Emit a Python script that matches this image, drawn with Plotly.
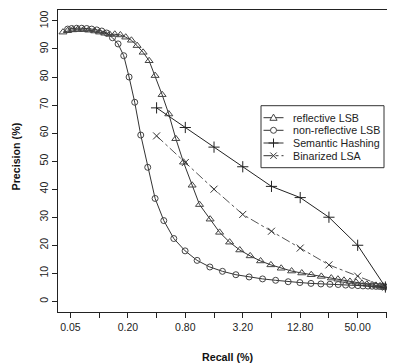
import plotly.graph_objects as go

# Reflective LSB (triangles)
refl_recall = [0.0418, 0.0468, 0.0528, 0.0596, 0.0689, 0.0778, 0.0899, 0.101, 0.1145, 0.129,
               0.146, 0.167, 0.190, 0.218, 0.250, 0.289, 0.334, 0.386, 0.457, 0.537,
               0.636, 0.766, 0.943, 1.127, 1.456, 1.83, 2.33, 2.98, 3.83, 4.92,
               6.31, 8.09, 10.4, 13.3, 16.7, 21.3, 27.1, 31.8, 36.8, 42.5,
               49.2, 56.8, 64.0, 72.4, 79.7, 87.9, 94.3, 100.0]
refl_prec = [96.0, 96.5, 96.8, 96.9, 96.9, 96.7, 96.4, 96.0, 95.6, 95.2,
             95.25, 95.0, 94.2, 93.1, 91.2, 88.8, 85.8, 80.5, 73.7, 66.8,
             58.0, 49.6, 41.4, 34.5, 29.3, 24.6, 21.1, 18.3, 16.2, 14.4,
             13.0, 11.8, 10.8, 10.1, 9.5, 8.9, 8.3, 7.9, 7.5, 7.1,
             6.8, 6.4, 6.1, 5.9, 5.7, 5.5, 5.4, 5.3]

# Non-reflective LSB (circles)
nonrefl_recall = [0.0468, 0.0516, 0.0582, 0.0657, 0.0741, 0.0836, 0.0944, 0.1065, 0.120, 0.138,
                  0.158, 0.181, 0.206, 0.236, 0.273, 0.323, 0.386, 0.476, 0.606, 0.796,
                  1.064, 1.446, 1.96, 2.71, 3.73, 5.16, 7.07, 9.58, 12.7, 16.6,
                  21.1, 26.2, 32.0, 38.3, 44.6, 51.5, 58.2, 65.7, 72.4, 79.7,
                  86.7, 93.2, 100.0]
nonrefl_prec = [97.1, 97.3, 97.4, 97.4, 97.3, 97.1, 96.8, 96.4, 95.7, 94.0,
                91.8, 87.6, 80.0, 71.0, 59.3, 47.8, 36.7, 28.8, 22.4, 18.0,
                14.6, 12.25, 10.7, 9.5, 8.7, 8.0, 7.5, 7.0, 6.7, 6.4,
                6.2, 6.1, 6.0, 5.8, 5.7, 5.6, 5.5, 5.45, 5.4, 5.35,
                5.3, 5.2, 5.1]

# Semantic Hashing (+)
sh_recall = [0.4, 0.8, 1.6, 3.2, 6.4, 12.8, 25.6, 51.2, 100.0]
sh_prec = [69.0, 62.0, 55.0, 48.0, 41.0, 37.0, 30.0, 20.0, 5.1]

# Binarized LSA (x)
lsa_recall = [0.4, 0.8, 1.6, 3.2, 6.4, 12.8, 25.6, 51.2, 100.0]
lsa_prec = [59.0, 49.5, 40.0, 31.0, 25.0, 19.0, 13.0, 9.0, 5.1]

series_names = ["reflective LSB", "non-reflective LSB", "Semantic Hashing", "Binarized LSA"]

tick_vals = [0.05 * 2 ** k for k in range(12)]
tick_text = ["0.05", "", "0.20", "", "0.80", "", "3.20", "", "12.80", "", "50.00", ""]
y_ticks = list(range(0, 101, 10))

FONT = "Liberation Sans, Arial, sans-serif"
LINE = "#333333"

# plot-area geometry in screen pixels (page has an 8px body margin)
PX0, PX1, PY0, PY1 = 58.0, 395.0, 10.0, 312.0


def px(x):
    return (x - PX0) / (PX1 - PX0)


def py(y):
    return (PY1 - y) / (PY1 - PY0)


fig = go.Figure()
styles = [
    dict(line=dict(color=LINE, width=1),
         marker=dict(symbol="triangle-up-open", size=7, color="#444444", line=dict(width=1))),
    dict(line=dict(color=LINE, width=1),
         marker=dict(symbol="circle-open", size=6, color="#444444", line=dict(width=1))),
    dict(line=dict(color="#222222", width=1),
         marker=dict(symbol="cross-thin-open", size=8, color="#222222", line=dict(width=1))),
    dict(line=dict(color="#555555", width=1, dash="dashdot"),
         marker=dict(symbol="x-thin-open", size=7, color="#333333", line=dict(width=1))),
]
data = [(refl_recall, refl_prec), (nonrefl_recall, nonrefl_prec), (sh_recall, sh_prec), (lsa_recall, lsa_prec)]
for (xs, ys), name, st in zip(data, series_names, styles):
    fig.add_trace(go.Scatter(x=xs, y=ys, mode="lines+markers", name=name, showlegend=False, **st))

# custom legend (box, key lines, key symbols, labels)
shapes = []
annotations = []
LEG_L, LEG_R, LEG_T, LEG_B = 261.0, 384.0, 105.7, 167.7
row_y = [117.7, 130.3, 143.0, 155.7]
key_x0, key_x1, key_xm, text_x = 263.5, 283.5, 273.5, 290.5
shapes.append(dict(type="rect", xref="paper", yref="paper", x0=px(LEG_L), x1=px(LEG_R),
                   y0=py(LEG_B), y1=py(LEG_T), line=dict(color="#333333", width=1),
                   fillcolor="white", layer="above"))
key_paths = [
    "M-3.6,-2.6 L3.6,-2.6 L0,3.6 Z",
    None,
    "M-5,0 L5,0 M0,-4.5 L0,4.5",
    "M-3.2,-3.2 L3.2,3.2 M-3.2,3.2 L3.2,-3.2",
]
key_dash = ["solid", "solid", "solid", "dashdot"]
key_col = ["#444444", "#444444", "#222222", "#333333"]
for i, yy in enumerate(row_y):
    shapes.append(dict(type="line", xref="paper", yref="paper", x0=px(key_x0), x1=px(key_x1),
                       y0=py(yy), y1=py(yy), line=dict(color=LINE, width=1, dash=key_dash[i]),
                       layer="above"))
    if key_paths[i] is None:
        shapes.append(dict(type="circle", xref="paper", yref="paper", xsizemode="pixel", ysizemode="pixel",
                           xanchor=px(key_xm), yanchor=py(yy), x0=-3, x1=3, y0=-3, y1=3,
                           line=dict(color=key_col[i], width=1), fillcolor="white", layer="above"))
    else:
        shapes.append(dict(type="path", xref="paper", yref="paper", xsizemode="pixel", ysizemode="pixel",
                           xanchor=px(key_xm), yanchor=py(yy), path=key_paths[i],
                           line=dict(color=key_col[i], width=1),
                           fillcolor="white" if i == 0 else None, layer="above"))
    annotations.append(dict(text=series_names[i], xref="paper", yref="paper", x=px(text_x), y=py(yy),
                            xanchor="left", yanchor="middle", showarrow=False,
                            font=dict(size=10.7, family=FONT, color="#222222")))

# axis titles
annotations.append(dict(text="<b>Recall (%)</b>", xref="paper", yref="paper", x=px(227.7), y=py(356.5),
                        xanchor="center", yanchor="middle", showarrow=False,
                        font=dict(size=10.7, family=FONT, color="#111111")))
annotations.append(dict(text="<b>Precision (%)</b>", xref="paper", yref="paper", x=px(15.5), y=py(157),
                        xanchor="center", yanchor="middle", showarrow=False, textangle=-90,
                        font=dict(size=10.7, family=FONT, color="#111111")))

fig.update_layout(
    template="none",
    width=387, height=355,
    margin=dict(l=50, r=0, t=2, b=51, pad=0),
    paper_bgcolor="white", plot_bgcolor="white",
    font=dict(family=FONT, size=10.5, color="#222222"),
    showlegend=False,
    shapes=shapes,
    annotations=annotations,
)
fig.update_xaxes(type="log", range=[-1.431, 2.1006], tickvals=tick_vals, ticktext=tick_text,
                 automargin=False,
                 ticks="outside", ticklen=5, tickcolor="#222222", showgrid=False, zeroline=False,
                 showline=True, linecolor="#222222", linewidth=1, mirror=True)
fig.update_yaxes(range=[-3.8, 103.9], tickvals=y_ticks, tickangle=-90, automargin=False,
                 ticks="outside", ticklen=5, tickcolor="#222222", showgrid=False, zeroline=False,
                 showline=True, linecolor="#222222", linewidth=1)

fig.write_html("out.html")
